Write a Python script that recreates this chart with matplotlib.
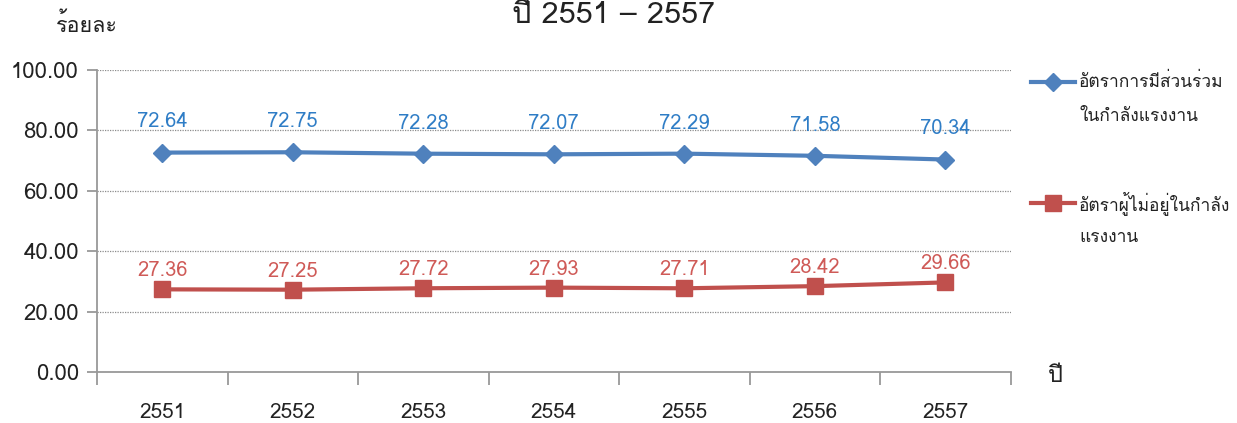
import matplotlib
matplotlib.use("Agg")
import matplotlib.pyplot as plt
from matplotlib import font_manager
from matplotlib.ft2font import FT2Font
from matplotlib.ticker import FixedLocator, NullFormatter


years = ["2551", "2552", "2553", "2554", "2555", "2556", "2557"]
participation = [72.64, 72.75, 72.28, 72.07, 72.29, 71.58, 70.34]
not_in_labour = [27.36, 27.25, 27.72, 27.93, 27.71, 28.42, 29.66]

LABEL_PART = "อัตราการมีส่วนร่วม\nในกำลังแรงงาน"
LABEL_NOT = "อัตราผู้ไม่อยู่ในกำลัง\nแรงงาน"
TITLE = "ปี 2551 – 2557"
Y_TITLE = "ร้อยละ"
X_TITLE = "ปี"

BLUE = "#4F81BD"
BLUE_TXT = "#2F7DC6"
RED = "#C0504D"
RED_TXT = "#CF5A57"
DARK = "#222222"


def find_thai_font():
    for f in font_manager.fontManager.ttflist:
        try:
            cmap = FT2Font(f.fname).get_charmap()
        except Exception:
            continue
        if ord("ร") in cmap and ord("0") in cmap:
            return f.name
    return None


thai = find_thai_font()
fams = [thai, "DejaVu Sans"] if thai else ["DejaVu Sans"]
plt.rcParams["font.family"] = fams

fig = plt.figure(figsize=(12.37, 4.23), dpi=100)
ax = fig.add_axes([0.0784, 0.1206, 0.7386, 0.714])

x = list(range(len(years)))
ax.plot(x, participation, color=BLUE, lw=3, marker="D", markersize=9,
        zorder=3)
ax.plot(x, not_in_labour, color=RED, lw=3, marker="s", markersize=11,
        zorder=3)

for i in x:
    ax.text(i, participation[i] + 7, "%.2f" % participation[i], ha="center",
            va="bottom", fontsize=14.5, color=BLUE_TXT)
    ax.text(i, not_in_labour[i] + 3, "%.2f" % not_in_labour[i], ha="center",
            va="bottom", fontsize=14.5, color=RED_TXT)

ax.set_xlim(-0.5, len(years) - 0.5)
ax.set_ylim(0, 100)
ax.set_yticks([0, 20, 40, 60, 80, 100])
ax.set_yticklabels(["%.2f" % v for v in [0, 20, 40, 60, 80, 100]])
ax.yaxis.grid(True, linestyle=(0, (1, 1)), color="#8c8c8c", lw=0.9)
ax.set_axisbelow(True)

ax.xaxis.set_major_locator(FixedLocator([i - 0.5 for i in range(len(years) + 1)]))
ax.xaxis.set_major_formatter(NullFormatter())
ax.xaxis.set_minor_locator(FixedLocator(x))
ax.set_xticklabels(years, minor=True)
ax.tick_params(axis="x", which="minor", length=0, pad=22, labelsize=15,
               labelcolor=DARK)
ax.tick_params(axis="x", which="major", length=9, color="#999999", width=1.3)
ax.tick_params(axis="y", length=7, color="#999999", width=1.3, labelsize=16,
               labelcolor=DARK, pad=6)

for s in ["top", "right"]:
    ax.spines[s].set_visible(False)
for s in ["left", "bottom"]:
    ax.spines[s].set_color("#999999")
    ax.spines[s].set_linewidth(1.3)

fig.text(0.496, 0.965, TITLE, ha="center", va="center", fontsize=22,
         color=DARK)
fig.text(0.0705, 0.94, Y_TITLE, ha="center", va="center", fontsize=15.5,
         color=DARK)
fig.text(0.853, 0.113, X_TITLE, ha="center", va="center", fontsize=17,
         color=DARK)

# legend drawn by hand: handle sits on the first text line
lax = fig.add_axes([0, 0, 1, 1])
lax.set_xlim(0, 1237)
lax.set_ylim(423, 0)
lax.axis("off")
entries = [(LABEL_PART, BLUE, "D", 9, 82), (LABEL_NOT, RED, "s", 11, 203)]
for label, col, mk, ms, ypos in entries:
    lax.plot([1031, 1075], [ypos, ypos], color=col, lw=3)
    lax.plot([1053], [ypos], color=col, marker=mk, markersize=ms, lw=0)
    for k, line in enumerate(label.split("\n")):
        lax.text(1079, ypos + 35 * k, line, ha="left", va="center",
                 fontsize=12.5, color=DARK)

fig.savefig("out.png", dpi=100)
